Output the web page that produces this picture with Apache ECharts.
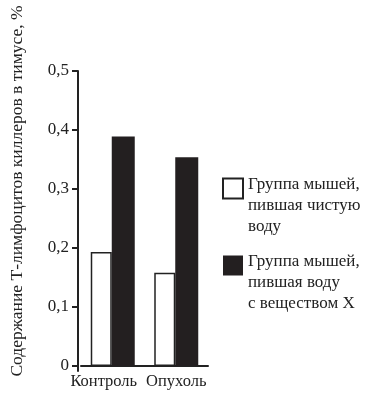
<!DOCTYPE html>
<html><head><meta charset="utf-8">
<script src="https://cdn.jsdelivr.net/npm/echarts@6/dist/echarts.min.js"></script>
<style>html,body{margin:0;padding:0;background:#fff}#c{width:374px;height:400px}</style>
</head><body><div id="c"></div>
<script>
const categories = ['Контроль', 'Опухоль'];
const seriesNames = ['Группа мышей,\nпившая чистую\nводу', 'Группа мышей,\nпившая воду\nс веществом X'];
const cleanWater = [0.193, 0.158];
const substanceX = [0.389, 0.354];
const yTicks = [0, 0.1, 0.2, 0.3, 0.4, 0.5];
const yTitle = 'Содержание Т-лимфоцитов киллеров в тимусе, %';

const FONT = '"Liberation Serif", "DejaVu Serif", serif';
const chart = echarts.init(document.getElementById('c'));
chart.setOption({
  animation: false,
  backgroundColor: '#fff',
  grid: { left: 81, right: 166, top: 71, bottom: 29 },
  legend: {
    orient: 'vertical',
    left: 217,
    top: 135,
    itemWidth: 20,
    itemHeight: 20,
    itemGap: -20,
    itemTextGap: 11,
    selectedMode: false,
    formatter: name => '{t|' + name.split('\n').join('}\n{t|') + '}',
    textStyle: {
      fontFamily: FONT, fontSize: 17, color: '#222', lineHeight: 21, padding: [34, 0, 0, 0],
      rich: { t: { fontFamily: FONT, fontSize: 17, color: '#222', lineHeight: 21 } }
    },
    data: [
      { name: seriesNames[0], icon: 'rect', itemStyle: { color: '#fff', borderColor: '#222', borderWidth: 2 } },
      { name: seriesNames[1], icon: 'rect', itemStyle: { color: '#231f20', borderWidth: 0 } }
    ]
  },
  xAxis: {
    type: 'category',
    data: categories,
    axisLine: { onZero: true, lineStyle: { color: '#222', width: 2 } },
    axisTick: { show: false },
    axisLabel: {
      interval: 0, hideOverlap: false,
      fontFamily: FONT, fontSize: 16.5, color: '#222', margin: 2,
      formatter: v => v === categories[0] ? '{a|' + v + '}' : '{b|' + v + '}',
      rich: {
        a: { fontFamily: FONT, fontSize: 16.5, color: '#222', padding: [0, 18, 0, 0] },
        b: { fontFamily: FONT, fontSize: 16.5, color: '#222', padding: [0, 0, 0, 0] }
      }
    }
  },
  yAxis: {
    type: 'value',
    offset: 3,
    min: -0.0085, max: yTicks[yTicks.length - 1],
    axisLine: { show: true, lineStyle: { color: '#222', width: 2 } },
    axisTick: { show: true, length: 6, customValues: yTicks, lineStyle: { color: '#222', width: 2 } },
    splitLine: { show: false },
    axisLabel: {
      customValues: yTicks,
      fontFamily: FONT, fontSize: 17, color: '#222', margin: 9,
      formatter: v => v === 0 ? '0' : v.toFixed(1).replace('.', ',')
    }
  },
  graphic: [{
    type: 'text', x: 17, y: 191, rotation: Math.PI / 2,
    style: { text: yTitle, fontFamily: FONT, fontSize: 17.5, fill: '#222', align: 'center', verticalAlign: 'middle' }
  }],
  series: [
    { name: seriesNames[0], type: 'bar', data: cleanWater, barWidth: 21, barGap: '0%',
      itemStyle: { color: '#fff', borderColor: '#222', borderWidth: 1.5 } },
    { name: seriesNames[1], type: 'bar', data: substanceX, barWidth: 23,
      itemStyle: { color: '#231f20', borderWidth: 0 } }
  ]
});
</script></body></html>
